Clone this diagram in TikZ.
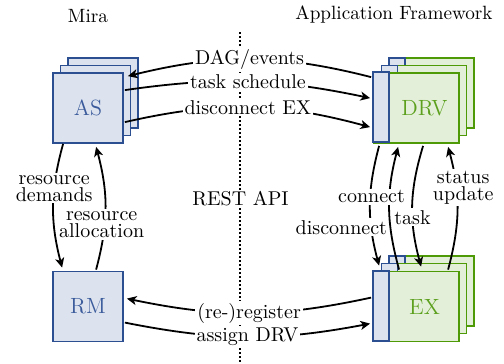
\documentclass[tikz,border=0pt]{standalone}
\usetikzlibrary{arrows.meta,calc}
\definecolor{blueedge}{RGB}{44,79,145}
\definecolor{bluefill}{RGB}{220,227,238}
\definecolor{bluetext}{RGB}{58,90,155}
\definecolor{greenedge}{RGB}{78,154,6}
\definecolor{greenfill}{RGB}{227,239,217}
\definecolor{greentext}{RGB}{92,160,30}
\begin{document}
\begin{tikzpicture}[x=0.5pt,y=-0.5pt,
  bluebox/.style={draw=blueedge, fill=bluefill, line width=0.9pt},
  greenbox/.style={draw=greenedge, fill=greenfill, line width=0.9pt},
  asnode/.style={bluebox, minimum width=35pt, minimum height=35pt, inner sep=0pt, text=bluetext, font=\fontsize{11}{13}\selectfont},
  drvnode/.style={greenbox, minimum width=42.5pt, minimum height=35pt, inner sep=0pt, text=greentext, font=\fontsize{11}{13}\selectfont},
  arr/.style={-{Stealth[length=4.8pt,width=4.5pt,inset=1.3pt]}, line width=0.9pt},
  lbl/.style={fill=white, inner sep=1pt, font=\fontsize{10}{8.6}\selectfont, align=center},
  title/.style={font=\fontsize{9.6}{11}\selectfont, anchor=base},
  dotline/.style={line width=0.75pt, dash pattern=on 0.75pt off 1.25pt},
]
\useasboundingbox (0,0) rectangle (504,364);
% separator
\coordinate (dtop) at (240,32);
\coordinate (dbot) at (240,364);
\draw[dotline] (dtop) -- (dbot);
% titles
\node[title] (mira) at (88,22) {Mira};
\node[title] (af) at (394,19) {Application Framework};
% stacked layers
\foreach \d in {15,7.5}{
  \draw[bluebox] ({53+\d},{73-\d}) rectangle ++(70,70);
  \draw[greenbox] ({374+\d},{73-\d}) rectangle ++(85,70);
  \draw[bluebox] ({374+\d},{73-\d}) rectangle ++(16,70);
  \draw[greenbox] ({374+\d},{271-\d}) rectangle ++(85,70);
  \draw[bluebox] ({374+\d},{271-\d}) rectangle ++(16,70);
}
% front nodes
\node[asnode] (as) at (88,108) {AS};
\node[asnode] (rm) at (88,306.5) {RM};
\node[drvnode] (drv) at (416.5,108) {\hspace*{8pt}DRV};
\draw[bluebox] (drv.north west) rectangle ++(16,70);
\node[drvnode] (ex) at (416.5,306.5) {\hspace*{8pt}EX};
\draw[bluebox] (ex.north west) rectangle ++(16,70);
% REST API
\node[lbl] (rest) at (240.5,199) {REST API};
% top connectors
\draw[arr] ($(drv.north west)+(-2,5)$) to[bend right=14] node[lbl]{DAG/events} ($(as.north east)+(4,4)$);
\draw[arr] ($(as.north east)+(1,18)$) to[bend left=10] node[lbl]{task schedule} ($(drv.north west)+(-3,26)$);
\draw[arr] ($(as.north east)+(1,50)$) to[bend left=14] node[lbl]{disconnect EX} ($(drv.north west)+(-3,55)$);
% bottom connectors
\draw[arr] ($(ex.north west)+(-2,27)$) to[bend left=12] node[lbl]{(re-)register} ($(rm.north east)+(3,28)$);
\draw[arr] ($(rm.north east)+(1,52)$) to[bend right=11] node[lbl]{assign DRV} ($(ex.north west)+(-3,53)$);
% left connectors
\draw[arr] ($(as.south west)+(11,0)$) to[bend right=15] node[lbl,pos=0.35]{resource\\demands} ($(rm.north west)+(10,-3)$);
\draw[arr] ($(rm.north west)+(44,-1)$) to[bend right=15] node[lbl,pos=0.36,xshift=-1.5pt]{resource\\allocation} ($(as.south west)+(44,3)$);
% right connectors
\draw[arr] ($(drv.south west)+(6,2)$) to[bend right=15] node[lbl,pos=0.69,xshift=-15pt]{disconnect} ($(ex.north west)+(6,-5)$);
\draw[arr] ($(ex.north west)+(26,-1)$) to[bend left=15] node[lbl,pos=0.6,xshift=-9pt]{connect} ($(drv.south west)+(25,3)$);
\draw[arr] ($(drv.south west)+(50,2)$) to[bend right=16] node[lbl,pos=0.6]{task} ($(ex.north west)+(48,-4)$);
\draw[arr] ($(ex.north west)+(75,-1)$) to[bend right=15] node[lbl,pos=0.68,xshift=3.5pt]{status\\update} ($(drv.south west)+(75,3)$);
\end{tikzpicture}
\end{document}
